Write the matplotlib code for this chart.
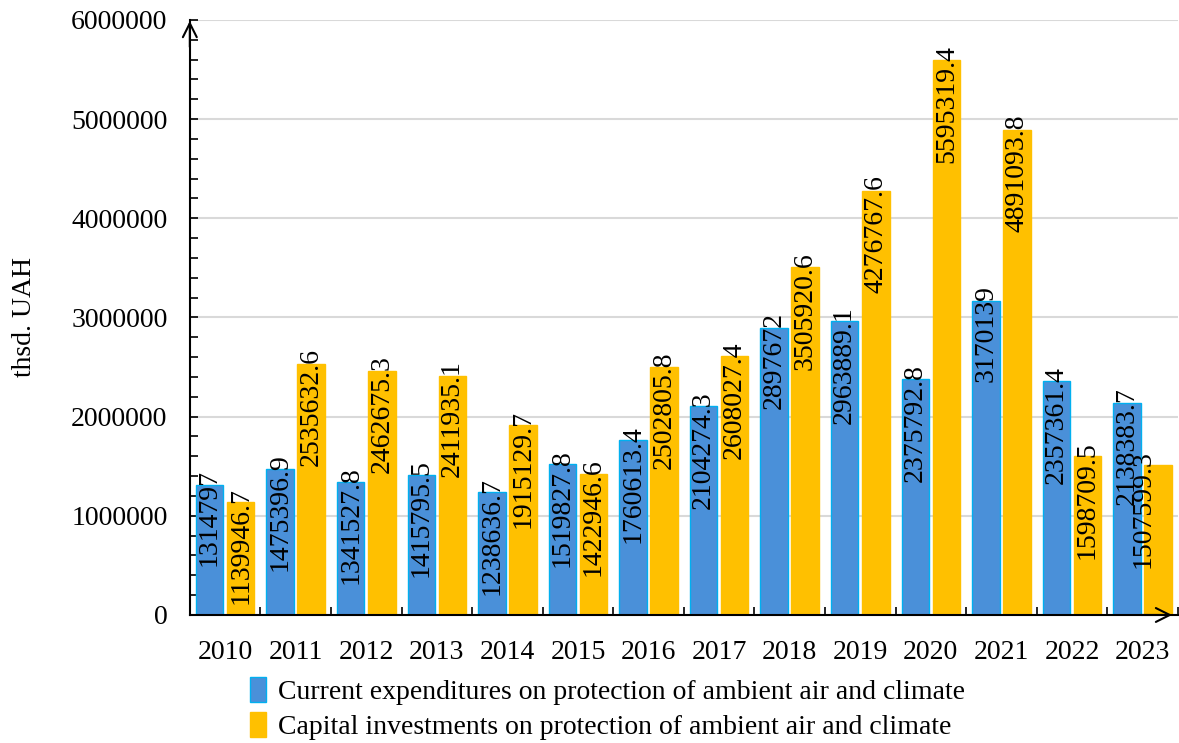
import numpy as np
import matplotlib
matplotlib.use('Agg')
import matplotlib.pyplot as plt
from matplotlib.ticker import MultipleLocator, FuncFormatter

plt.rcParams['font.family'] = ['Liberation Serif', 'DejaVu Serif']

years = ['2010', '2011', '2012', '2013', '2014', '2015', '2016',
         '2017', '2018', '2019', '2020', '2021', '2022', '2023']
current = [1314797, 1475396.9, 1341527.8, 1415795.5, 1238636.7, 1519827.8, 1760613.4,
           2104274.3, 2897672, 2963889.1, 2375792.8, 3170139, 2357361.4, 2138383.7]
capital = [1139946.7, 2535632.6, 2462675.3, 2411935.1, 1915129.7, 1422946.6, 2502805.8,
           2608027.4, 3505920.6, 4276767.6, 5595319.4, 4891093.8, 1598709.5, 1507599.3]
current_lbl = ['1314797', '1475396.9', '1341527.8', '1415795.5', '1238636.7', '1519827.8', '1760613.4',
               '2104274.3', '2897672', '2963889.1', '2375792.8', '3170139', '2357361.4', '2138383.7']
capital_lbl = ['1139946.7', '2535632.6', '2462675.3', '2411935.1', '1915129.7', '1422946.6', '2502805.8',
               '2608027.4', '3505920.6', '4276767.6', '5595319.4', '4891093.8', '1598709.5', '1507599.3']

fs = 20

fig = plt.figure(figsize=(11.79, 7.43), dpi=100)
ax = fig.add_axes([0.161, 0.1723, 0.838, 0.8008])

x = np.arange(len(years))
w = 0.39
off = 0.22
ax.bar(x - off, current, w, color='#4a90d9', edgecolor='#00b0f0', linewidth=1,
       label='Current expenditures on protection of ambient air and climate', zorder=2)
ax.bar(x + off, capital, w, color='#ffc000', edgecolor='#ffc000', linewidth=1,
       label='Capital investments on protection of ambient air and climate', zorder=2)

for i in range(len(years)):
    ax.annotate(current_lbl[i], (x[i] - off, current[i]), xytext=(0, 11),
                textcoords='offset points', rotation=90, ha='center', va='top',
                fontsize=fs, zorder=3)
    dx = -11 if i == len(years) - 1 else 0
    ax.annotate(capital_lbl[i], (x[i] + off, capital[i]), xytext=(dx, 11),
                textcoords='offset points', rotation=90, ha='center', va='top',
                fontsize=fs, zorder=3)

ax.set_xlim(-0.5, 13.5)
ax.set_ylim(0, 6000000)
ax.yaxis.set_major_locator(MultipleLocator(1000000))
ax.yaxis.set_minor_locator(MultipleLocator(200000))
ax.yaxis.set_major_formatter(FuncFormatter(lambda v, p: '%d' % v))
ax.set_xticks(x)
ax.set_xticklabels(years)
ax.set_xticks(np.arange(-0.5, 13.6, 1), minor=True)
ax.tick_params(axis='x', which='major', length=0, pad=18, labelsize=fs)
ax.tick_params(axis='x', which='minor', direction='in', length=6, width=1.2)
ax.tick_params(axis='y', which='both', direction='in', length=6, width=1.2, labelsize=fs, pad=16)
ax.yaxis.grid(True, which='major', color='#d9d9d9', linewidth=1.5, zorder=0)
ax.set_axisbelow(True)

for s in ['top', 'right']:
    ax.spines[s].set_visible(False)
ax.spines['left'].set_linewidth(1.5)
ax.spines['bottom'].set_linewidth(1.5)

# arrows at the axis ends
ax.annotate('', xy=(0, 1.003), xytext=(0, 0.95), xycoords='axes fraction',
            arrowprops=dict(arrowstyle='->', lw=1.5, mutation_scale=25), annotation_clip=False)
ax.annotate('', xy=(0.997, 0), xytext=(0.96, 0), xycoords='axes fraction',
            arrowprops=dict(arrowstyle='->', lw=1.5, mutation_scale=25), annotation_clip=False)

ax.set_ylabel('thsd. UAH', fontsize=fs)
ax.yaxis.set_label_coords(-0.155, 0.5)

fig.legend(loc='upper left', bbox_to_anchor=(0.203, 0.104), frameon=False, fontsize=fs,
           handlelength=0.55, handleheight=1.0, handletextpad=0.45, labelspacing=0.25,
           borderaxespad=0)

fig.savefig('out.png', dpi=100)
